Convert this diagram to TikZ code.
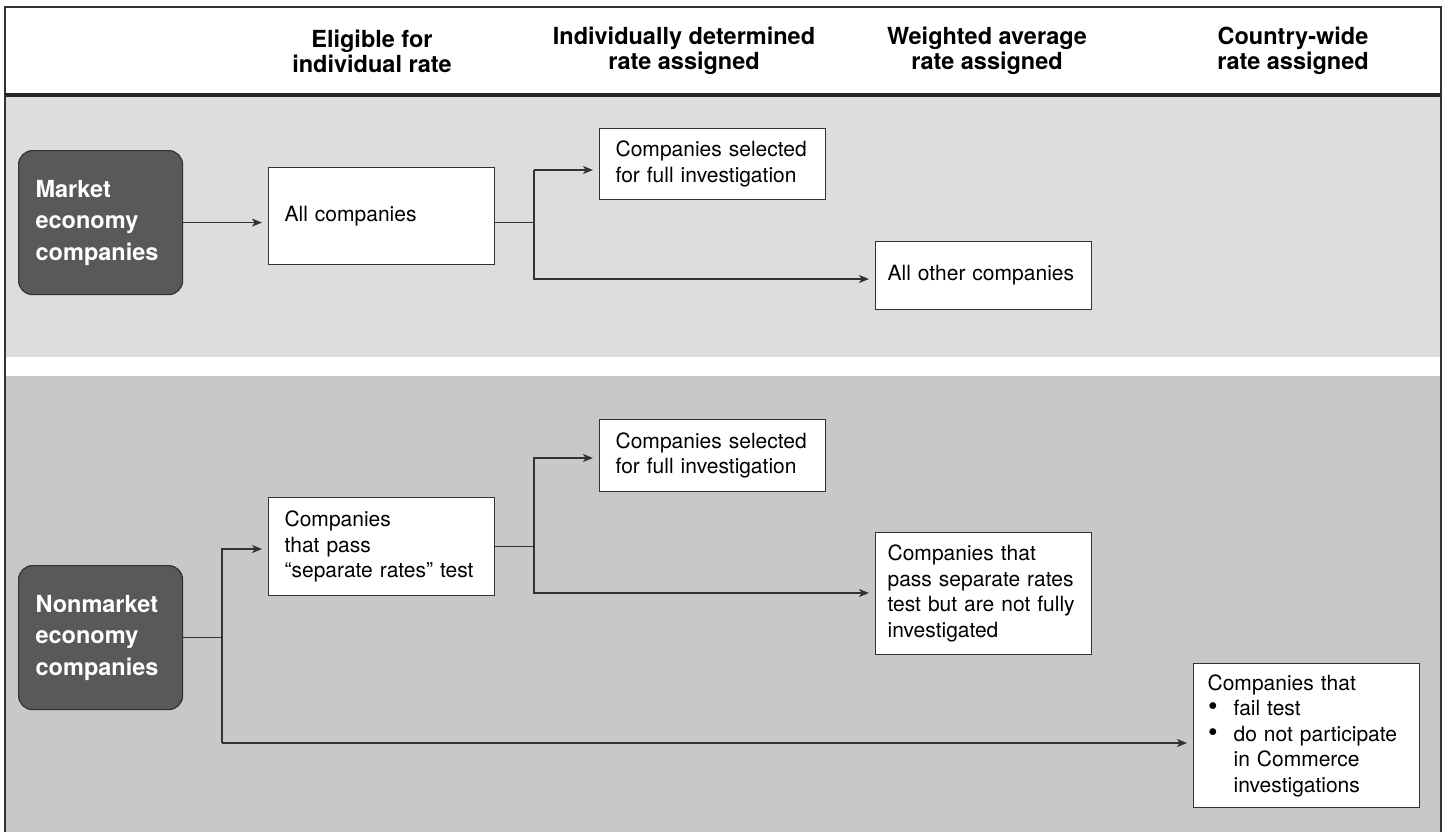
\documentclass[tikz,border=0pt]{standalone}
\usepackage{fontspec}
\setmainfont{TeX Gyre Heros}
\usetikzlibrary{arrows.meta}
\usetikzlibrary{calc}
\definecolor{bandtop}{RGB}{220,221,223}
\definecolor{bandlow}{RGB}{199,200,202}
\definecolor{firmgray}{RGB}{88,89,91}
\definecolor{edge}{RGB}{50,50,50}
\newcommand{\failbullet}{\makebox[13pt][l]{\hspace{0.3pt}\scalebox{1.3}{\textbullet}}}

\begin{document}
\begin{tikzpicture}[x=0.5pt, y=-0.5pt,
    box/.style={draw=edge, line width=0.6pt, fill=white, align=left, anchor=north west, inner ysep=0pt, font=\fontsize{10.5}{12.75}\selectfont},
    firm/.style={draw=edge, line width=0.6pt, fill=firmgray, rounded corners=7pt, text=white, align=left, anchor=north west, text width=65pt, inner xsep=8.5pt, minimum height=72pt, font=\bfseries\fontsize{11.75}{15.75}\selectfont},
    colhead/.style={align=center, font=\bfseries\fontsize{11.75}{12.5}\selectfont},
    link/.style={draw=edge, line width=0.75pt},
    >={Stealth[length=5pt, width=4pt, inset=1.3pt]}]
    \useasboundingbox (0,0) rectangle (1445,832);

    % bands and frame
    \fill[bandtop] (5,97) rectangle (1441,357);
    \fill[bandlow] (5,376) rectangle (1441,832);
    \draw[edge, line width=0.6pt] (5,832) -- (5,7) -- (1441,7) -- (1441,832);
    \draw[black!85, line width=1.6pt] (5,95) -- (1441,95);

    % column heads
    \node[colhead] (hElig) at (372,51) {Eligible for\\individual rate};
    \node[colhead] (hIndiv) at (684,51) {Individually determined\\rate assigned};
    \node[colhead] (hWavg) at (987,51) {Weighted average\\rate assigned};
    \node[colhead] (hCountry) at (1293,51) {Country-wide\\rate assigned};

    % market economy
    \node[firm] (mkt) at (18,150) {Market\\economy\\companies};
    \node[box, text width=97pt, inner xsep=8pt, minimum height=48.5pt] (allco) at (268,167) {All companies};
    \node[box, text width=97pt, inner xsep=8pt, minimum height=35.5pt] (sel1) at (599,128) {Companies selected\\for full investigation};
    \node[box, text width=96pt, inner xsep=6pt, minimum height=34pt] (other) at (875,241) {All other companies};

    % nonmarket economy
    \node[firm] (nonmkt) at (18,565) {Nonmarket\\economy\\companies};
    \node[box, text width=97pt, inner xsep=8pt, minimum height=49pt] (pass) at (268,497) {Companies\\that pass\\``separate rates'' test};
    \node[box, text width=97pt, inner xsep=8pt, minimum height=36pt] (sel2) at (599,419) {Companies selected\\for full investigation};
    \node[box, text width=96pt, inner xsep=6pt, minimum height=61pt] (sepr) at (875,532) {Companies that\\pass separate rates\\test but are not fully\\investigated};
    \node[box, text width=99pt, inner xsep=7pt, minimum height=72pt] (fail) at (1193,663) {Companies that\\
        \failbullet fail test\\
        \failbullet do not participate\\
        \hspace*{13pt}in Commerce\\
        \hspace*{13pt}investigations};

    \coordinate (f1t) at (534,170);
    \coordinate (f1b) at (534,279);
    \coordinate (f0t) at (222,549);
    \coordinate (f0b) at (222,743);
    \coordinate (f2t) at (534,458);
    \coordinate (f2b) at (534,593);

    \draw[link, ->, shorten >=3pt] (mkt.east) -- (mkt.east -| allco.west);
    \draw[link] (allco.east |- mkt.east) -| (f1t);
    \draw[link, ->, shorten >=3pt] (f1t) -- (f1t -| sel1.west);
    \draw[link, ->, shorten >=3pt] (f1t |- mkt.east) -- (f1b) -- (f1b -| other.west);

    \draw[link] (nonmkt.east) -- (nonmkt.east -| f0t);
    \draw[link, ->, shorten >=3pt] (f0b) -- (f0t) -- (f0t -| pass.west);
    \draw[link, ->, shorten >=3pt] (f0b) -- (f0b -| fail.west);
    \draw[link] (pass.east) -- (pass.east -| f2t);
    \draw[link, ->, shorten >=3pt] (f2b) -- (f2t) -- (f2t -| sel2.west);
    \draw[link, ->, shorten >=3pt] (f2t) -- (f2b) -- (f2b -| sepr.west);
\end{tikzpicture}
\end{document}
